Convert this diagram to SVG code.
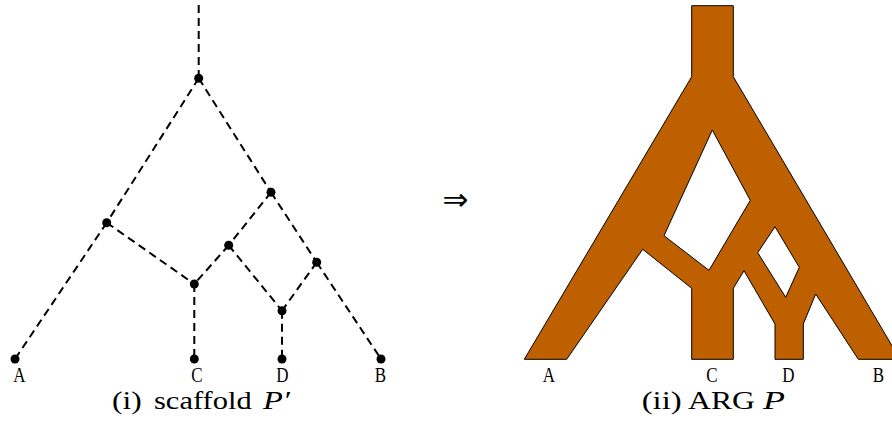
<svg xmlns="http://www.w3.org/2000/svg" width="892" height="429" viewBox="0 0 892 429">
<style>
.e{stroke:#000;stroke-width:2;stroke-dasharray:8 5;fill:none}
.n{fill:#000}
.lab{font-family:"Liberation Serif",serif;font-size:20px;fill:#000;text-anchor:middle}
.cap{font-family:"Liberation Serif",serif;font-size:25px;fill:#000}
.arg{fill:#BF6000;stroke:#000;stroke-width:1;fill-rule:evenodd;stroke-linejoin:miter}
</style>
<rect width="892" height="429" fill="#fff"/>
<g id="connectors">
<line class="e" x1="198.7" y1="5" x2="198.7" y2="78.3"/>
<line class="e" x1="198.7" y1="78.3" x2="106.7" y2="222.7"/>
<line class="e" x1="106.7" y1="222.7" x2="15" y2="359"/>
<line class="e" x1="106.7" y1="222.7" x2="194.3" y2="284"/>
<line class="e" x1="198.7" y1="78.3" x2="271" y2="192.3"/>
<line class="e" x1="271" y1="192.3" x2="228.7" y2="245.3"/>
<line class="e" x1="271" y1="192.3" x2="316.7" y2="262.3"/>
<line class="e" x1="228.7" y1="245.3" x2="194.3" y2="284"/>
<line class="e" x1="228.7" y1="245.3" x2="282" y2="310.7"/>
<line class="e" x1="316.7" y1="262.3" x2="282" y2="310.7"/>
<line class="e" x1="316.7" y1="262.3" x2="381" y2="359"/>
<line class="e" x1="194.3" y1="284" x2="194.3" y2="359"/>
<line class="e" x1="282" y1="310.7" x2="282" y2="359"/>
</g>
<g id="root"><circle class="n" cx="198.7" cy="78.3" r="4.5"/></g>
<g id="n_left"><circle class="n" cx="106.7" cy="222.7" r="4.5"/></g>
<g id="n_righttop"><circle class="n" cx="271" cy="192.3" r="4.5"/></g>
<g id="n_mid"><circle class="n" cx="228.7" cy="245.3" r="4.5"/></g>
<g id="n_rightlow"><circle class="n" cx="316.7" cy="262.3" r="4.5"/></g>
<g id="n_crec"><circle class="n" cx="194.3" cy="284" r="4.5"/></g>
<g id="n_drec"><circle class="n" cx="282" cy="310.7" r="4.5"/></g>
<g id="leafA"><circle class="n" cx="15" cy="359" r="4.5"/><text class="lab" transform="translate(19.3,381.5) scale(0.85,1)">A</text></g>
<g id="leafC"><circle class="n" cx="194.3" cy="359" r="4.5"/><text class="lab" transform="translate(197,381.5) scale(0.85,1)">C</text></g>
<g id="leafD"><circle class="n" cx="282" cy="359" r="4.5"/><text class="lab" transform="translate(282.5,381.5) scale(0.85,1)">D</text></g>
<g id="leafB"><circle class="n" cx="381" cy="359" r="4.5"/><text class="lab" transform="translate(380.5,381.5) scale(0.85,1)">B</text></g>
<text class="cap" y="408.5"><tspan x="112" textLength="29.7" lengthAdjust="spacingAndGlyphs">(i)</tspan><tspan x="154" textLength="97.7" lengthAdjust="spacingAndGlyphs">scaffold</tspan><tspan x="263" font-style="italic" textLength="27" lengthAdjust="spacingAndGlyphs">P′</tspan></text>
<g id="arrow"><text x="455.5" y="210" font-family="DejaVu Sans, sans-serif" font-size="31" text-anchor="middle">⇒</text></g>
<g id="arg">
<path class="arg" d="M691.7,5.7 L733.3,5.7 L733.3,76.7 L900,359.3 L858.3,359.3 L815.7,294 L803.3,324 L803.3,359.3 L775,359.3 L775,324 L744,270.7 L733.3,288.3 L733.3,359.3 L691.7,359.3 L691.7,288.3 L642.7,249.3 L566.7,359.3 L524.3,359.3 L691.7,76.7 Z M712.3,130 L750.3,200.3 L709,270.3 L664,235.7 Z M775,226.7 L799.3,267.3 L785.7,297.3 L757.7,252.7 Z"/>
<text class="lab" transform="translate(549,381.5) scale(0.85,1)">A</text>
<text class="lab" transform="translate(712,381.5) scale(0.85,1)">C</text>
<text class="lab" transform="translate(788.3,381.5) scale(0.85,1)">D</text>
<text class="lab" transform="translate(878.3,381.5) scale(0.85,1)">B</text>
</g>
<text class="cap" y="408.5"><tspan x="641.7" textLength="40" lengthAdjust="spacingAndGlyphs">(ii)</tspan><tspan x="688" textLength="67" lengthAdjust="spacingAndGlyphs">ARG</tspan><tspan x="763" font-style="italic" textLength="22" lengthAdjust="spacingAndGlyphs">P</tspan></text>
</svg>
